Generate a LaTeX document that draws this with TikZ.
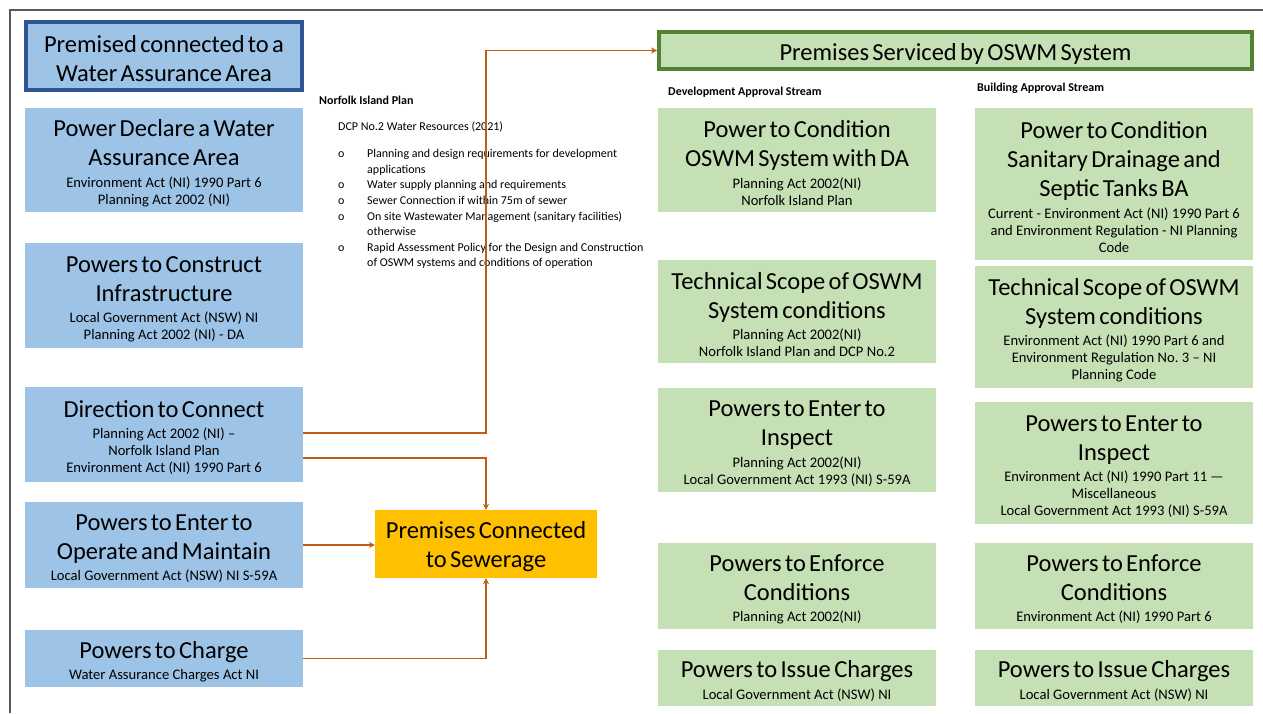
\documentclass[tikz,border=0pt]{standalone}
\usepackage{fontspec}
\setmainfont{Carlito}
\usetikzlibrary{arrows.meta}
\definecolor{blueF}{HTML}{9DC3E6}
\definecolor{blueB}{HTML}{2F5597}
\definecolor{greenF}{HTML}{C5E0B4}
\definecolor{greenB}{HTML}{548235}
\definecolor{orangeF}{HTML}{FFC000}
\definecolor{arrowC}{HTML}{C55A11}
\definecolor{frameC}{HTML}{595959}
\newcommand\bigt[1]{{\fontsize{24.5}{29}\selectfont\rule{0pt}{23pt}#1\par}}
\newcommand\smt[1]{{\vspace{4.5pt}\fontsize{14.6}{17}\selectfont #1\par}}
\tikzset{
  bx/.style={inner sep=0pt, text width=274pt, align=center, minimum width=278pt, text=black},
  bluebx/.style={bx, fill=blueF},
  greenbx/.style={bx, fill=greenF},
  conn/.style={draw=arrowC, line width=1.4pt, -{Stealth[length=6pt,width=6pt]}},
  hdr/.style={inner sep=0pt, anchor=west, font=\fontsize{12}{14}\selectfont\bfseries},
}
\begin{document}
\begin{tikzpicture}[x=1pt,y=-1pt]
\useasboundingbox (0,0) rectangle (1263,713);
\draw[frameC, line width=1.2pt] (1263,10) -- (10,10) -- (10,713);

% left column
\node[bluebx, draw=blueB, line width=4pt, minimum width=276pt, minimum height=68pt] (t1) at (164,56)
  {\bigt{Premised connected to a\\Water Assurance Area}};
\node[bluebx, minimum height=104pt] (b1) at (164,160)
  {\bigt{Power Declare a Water\\Assurance Area}\smt{Environment Act (NI) 1990 Part 6\\Planning Act 2002 (NI)}};
\node[bluebx, minimum height=105pt] (b2) at (164,295.5)
  {\bigt{Powers to Construct\\Infrastructure}\smt{Local Government Act (NSW) NI\\Planning Act 2002 (NI) - DA}};
\node[bluebx, minimum height=95pt] (b3) at (164,434.5)
  {\bigt{Direction to Connect}\smt{Planning Act 2002 (NI) –\\Norfolk Island Plan\\Environment Act (NI) 1990 Part 6}};
\node[bluebx, minimum height=86pt] (b4) at (164,545)
  {\bigt{Powers to Enter to\\Operate and Maintain}\smt{Local Government Act (NSW) NI S-59A}};
\node[bluebx, minimum height=57pt] (b5) at (164,658.5)
  {\bigt{Powers to Charge}\smt{Water Assurance Charges Act NI}};

% orange
\node[bx, fill=orangeF, text width=218pt, minimum width=222pt, minimum height=68pt] (o) at (486,544)
  {\bigt{Premises Connected\\to Sewerage}};

% Norfolk Island Plan text
\node[hdr] (nip) at (319,100) {Norfolk Island Plan};
\node[anchor=west, inner sep=0pt, font=\fontsize{12}{14}\selectfont] (dcp) at (338,127) {DCP No.2 Water Resources (2021)};
\node[anchor=north west, inner sep=0pt, font=\fontsize{12}{15.6}\selectfont] (lst) at (338,146.5)
  {\begin{tabular}{@{}p{29pt}@{}l@{}}
  o & Planning and design requirements for development\\
    & applications\\
  o & Water supply planning and requirements\\
  o & Sewer Connection if within 75m of sewer\\
  o & On site Wastewater Management (sanitary facilities)\\
    & otherwise\\
  o & Rapid Assessment Policy for the Design and Construction\\
    & of OSWM systems and conditions of operation
  \end{tabular}};

% green title
\node[greenbx, draw=greenB, line width=4pt, text width=580pt, minimum width=593pt, minimum height=37pt] (gt) at (955.5,50.5)
  {\bigt{Premises Serviced by OSWM System}};
\node[hdr] (das) at (668,92) {Development Approval Stream};
\node[hdr] (bas) at (977,88) {Building Approval Stream};

% middle column
\node[greenbx, minimum height=104pt] (g1) at (797,160)
  {\bigt{Power to Condition\\OSWM System with DA}\smt{Planning Act 2002(NI)\\Norfolk Island Plan}};
\node[greenbx, minimum height=103pt] (g2) at (797,311.5)
  {\bigt{Technical Scope of OSWM\\System conditions}\smt{Planning Act 2002(NI)\\Norfolk Island Plan and DCP No.2}};
\node[greenbx, minimum height=104pt] (g3) at (797,440)
  {\bigt{Powers to Enter to\\Inspect}\smt{Planning Act 2002(NI)\\Local Government Act 1993 (NI) S-59A}};
\node[greenbx, minimum height=86pt] (g4) at (797,586)
  {\bigt{Powers to Enforce\\Conditions}\smt{Planning Act 2002(NI)}};
\node[greenbx, minimum height=56pt] (g5) at (797,678)
  {\bigt{Powers to Issue Charges}\smt{Local Government Act (NSW) NI}};

% right column
\node[greenbx, minimum height=152pt] (r1) at (1114,184)
  {\bigt{Power to Condition\\Sanitary Drainage and\\Septic Tanks BA}\smt{Current - Environment Act (NI) 1990 Part 6\\and Environment Regulation - NI Planning\\Code}};
\node[greenbx, minimum height=122pt] (r2) at (1114,327)
  {\bigt{Technical Scope of OSWM\\System conditions}\smt{Environment Act (NI) 1990 Part 6 and\\Environment Regulation No.\ 3 – NI\\Planning Code}};
\node[greenbx, minimum height=122pt] (r3) at (1114,463)
  {\bigt{Powers to Enter to\\Inspect}\smt{Environment Act (NI) 1990 Part 11 —\\Miscellaneous\\Local Government Act 1993 (NI) S-59A}};
\node[greenbx, minimum height=86pt] (r4) at (1114,586)
  {\bigt{Powers to Enforce\\Conditions}\smt{Environment Act (NI) 1990 Part 6}};
\node[greenbx, minimum height=56pt] (r5) at (1114,678)
  {\bigt{Powers to Issue Charges}\smt{Local Government Act (NSW) NI}};

% connectors
\draw[conn] ([yshift=1.5pt]b3.east) -- ([yshift=1.5pt]b3.east -| o.north) |- (gt.west);
\draw[conn] ([yshift=-23.5pt]b3.east) -| (o.north);
\draw[conn] (b4.east) -- (b4.east -| o.west);
\draw[conn] (b5.east) -| (o.south);
\end{tikzpicture}
\end{document}
